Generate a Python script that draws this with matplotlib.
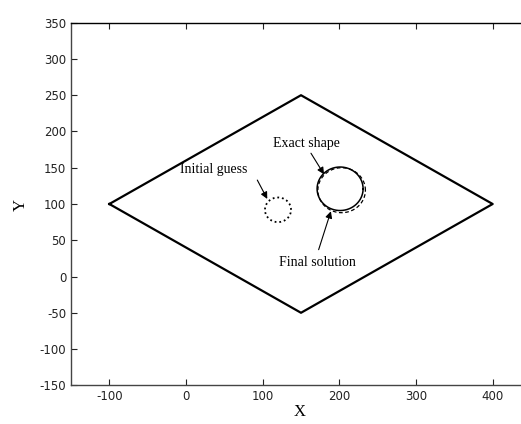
import numpy as np
import matplotlib
matplotlib.use("Agg")
import matplotlib.pyplot as plt

plt.rcParams["axes.unicode_minus"] = False

# Domain outline (closed diamond)
domain_x = [-100, 150, 400, 150, -100]
domain_y = [100, 250, 100, -50, 100]

# Circular inclusions: (center x, center y, radius)
exact_shape = (201, 121, 30)
final_solution = (203, 119, 31)
initial_guess = (120, 92, 17)

xticks = [-100, 0, 100, 200, 300, 400]
yticks = [-150, -100, -50, 0, 50, 100, 150, 200, 250, 300, 350]


def circle(c):
    t = np.linspace(0, 2 * np.pi, 200)
    return c[0] + c[2] * np.cos(t), c[1] + c[2] * np.sin(t)


fig = plt.figure(figsize=(5.21, 4.24), dpi=100)
ax = fig.add_axes([71 / 521, 38.7 / 424, 460 / 521, 362.6 / 424])

ax.plot(domain_x, domain_y, color="black", lw=1.6)

ex, ey = circle(exact_shape)
ax.plot(ex, ey, color="black", lw=1.1)
fx, fy = circle(final_solution)
ax.plot(fx, fy, color="black", lw=0.9, ls=(0, (3, 2)))
gx, gy = circle(initial_guess)
ax.plot(gx, gy, color="black", lw=1.3, ls=(0, (1, 1.6)))

ax.set_xlim(-150, 450)
ax.set_ylim(-150, 350)
ax.set_xticks(xticks)
ax.set_yticks(yticks)
ax.tick_params(direction="in", top=True, right=True, length=4,
               labelsize=8.5, width=0.8, colors="#222222")
for lab in ax.get_xticklabels() + ax.get_yticklabels():
    lab.set_family("DejaVu Sans")
for s in ax.spines.values():
    s.set_linewidth(1.0)
ax.spines["left"].set_color("#444444")
ax.spines["bottom"].set_color("#444444")

serif = "Liberation Serif"
ax.set_xlabel("X", family=serif, fontsize=12, ha="center", va="center")
ax.set_ylabel("Y", family=serif, fontsize=12, rotation=90,
              ha="center", va="center")
ax.xaxis.set_label_coords(0.498, -0.073)
ax.yaxis.set_label_coords(-0.11, 0.497)

arrow = dict(arrowstyle="-|>", color="black", lw=0.8, mutation_scale=10,
             shrinkA=0, shrinkB=0)
ax.annotate("Initial guess", xy=(106, 107), xytext=(-8, 148),
            family=serif, fontsize=10, va="center", ha="left")
ax.annotate("", xy=(106, 107), xytext=(93, 133), arrowprops=arrow)
ax.annotate("Exact shape", xy=(180, 141), xytext=(114, 184),
            family=serif, fontsize=10, va="center", ha="left")
ax.annotate("", xy=(180, 141), xytext=(163, 170), arrowprops=arrow)
ax.annotate("Final solution", xy=(189, 90), xytext=(121, 20),
            family=serif, fontsize=10, va="center", ha="left")
ax.annotate("", xy=(189, 90), xytext=(173, 37), arrowprops=arrow)

fig.savefig("out.png", dpi=100)
